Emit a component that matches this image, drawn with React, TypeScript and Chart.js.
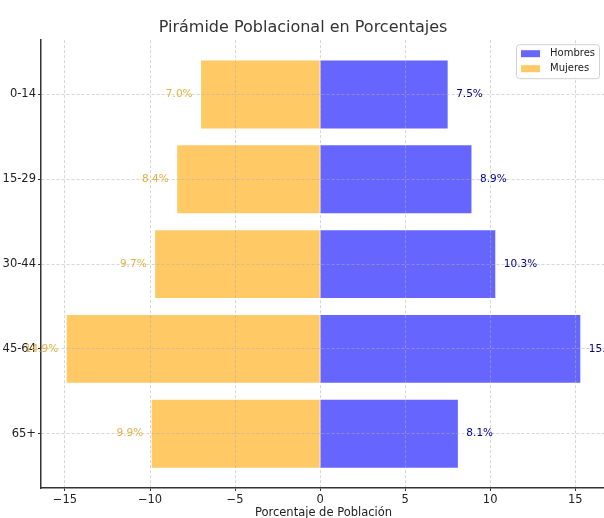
import { useEffect, useRef } from 'react';
import { Chart, registerables } from 'chart.js';

Chart.register(...registerables);

const categories = ['0-14', '15-29', '30-44', '45-64', '65+'];
const hombres = [7.5, 8.9, 10.3, 15.3, 8.1];
const mujeres = [7.0, 8.4, 9.7, 14.9, 9.9];
const xTickValues = [-15, -10, -5, 0, 5, 10, 15];
const seriesNames = ['Hombres', 'Mujeres'];
const seriesColors = ['#6666ff', '#ffc966'];
const labelColors = ['#00008b', '#e0b343'];
const chartTitle = 'Pirámide Poblacional en Porcentajes';
const xTitle = 'Porcentaje de Población';

const FONT = "'DejaVu Sans', sans-serif";
const GRID = 'rgba(176,176,176,0.65)';

export default function App() {
  const ref = useRef<HTMLCanvasElement>(null);

  useEffect(() => {
    const canvas = ref.current;
    if (!canvas) return;

    const valueLabels = {
      id: 'valueLabels',
      afterDraw(chart: any) {
        const { ctx } = chart;
        const x = chart.scales.x;
        const y = chart.scales.y;
        ctx.save();
        ctx.font = `10.5px ${FONT}`;
        ctx.textBaseline = 'middle';
        hombres.forEach((v, i) => {
          ctx.fillStyle = labelColors[0];
          ctx.textAlign = 'left';
          ctx.fillText(`${v.toFixed(1)}%`, x.getPixelForValue(v + 0.5), y.getPixelForValue(i));
        });
        mujeres.forEach((v, i) => {
          ctx.fillStyle = labelColors[1];
          ctx.textAlign = 'right';
          ctx.fillText(`${v.toFixed(1)}%`, x.getPixelForValue(-(v + 0.5)), y.getPixelForValue(i));
        });
        ctx.restore();
      },
    };

    const legendBox = {
      id: 'legendBox',
      afterDraw(chart: any) {
        const { ctx, chartArea } = chart;
        ctx.save();
        ctx.font = `10px ${FONT}`;
        const textW = Math.max(...seriesNames.map((n) => ctx.measureText(n).width));
        const patchW = 19;
        const patchH = 7;
        const padX = 5;
        const gap = 10;
        const rowH = 15;
        const boxW = padX + patchW + gap + textW + 4;
        const boxH = 34;
        const right = chartArea.right - 7;
        const top = chartArea.top + 4;
        const left = right - boxW;
        ctx.fillStyle = 'rgba(255,255,255,0.8)';
        ctx.strokeStyle = '#d0d0d0';
        ctx.lineWidth = 1;
        ctx.beginPath();
        if ((ctx as any).roundRect) {
          (ctx as any).roundRect(left + 0.5, top + 0.5, boxW, boxH, 3);
        } else {
          ctx.rect(left + 0.5, top + 0.5, boxW, boxH);
        }
        ctx.fill();
        ctx.stroke();
        seriesNames.forEach((name, i) => {
          const cy = top + 2 + rowH * i + rowH / 2;
          ctx.fillStyle = seriesColors[i];
          ctx.fillRect(left + padX, cy - patchH / 2, patchW, patchH);
          ctx.fillStyle = '#222';
          ctx.textAlign = 'left';
          ctx.textBaseline = 'middle';
          ctx.fillText(name, left + padX + patchW + gap, cy);
        });
        ctx.restore();
      },
    };

    const gridCommon = {
      color: GRID,
      lineWidth: 0.8,
      z: 1,
      offset: false,
      drawTicks: true,
      tickLength: 3,
      tickColor: '#333',
      tickWidth: 1,
    };

    const chart = new Chart(canvas, {
      type: 'bar',
      data: {
        datasets: [
          {
            label: seriesNames[0],
            data: hombres.map((v, i) => ({ x: v, y: i })),
            backgroundColor: seriesColors[0],
            borderWidth: 0,
            grouped: false,
            barPercentage: 0.8,
            categoryPercentage: 1,
          } as any,
          {
            label: seriesNames[1],
            data: mujeres.map((v, i) => ({ x: -v, y: i })),
            backgroundColor: seriesColors[1],
            borderWidth: 0,
            grouped: false,
            barPercentage: 0.8,
            categoryPercentage: 1,
          } as any,
        ],
      },
      options: {
        indexAxis: 'y',
        responsive: false,
        animation: false,
        devicePixelRatio: 1,
        layout: { padding: { top: 0, left: 0, right: 40, bottom: 0 } },
        plugins: {
          legend: { display: false },
          tooltip: { enabled: false },
          title: {
            display: true,
            text: chartTitle,
            color: '#333',
            font: { family: FONT, size: 16, weight: 'normal' },
            padding: { top: 18, bottom: 3 },
          },
        },
        scales: {
          x: {
            type: 'linear',
            min: -16.41,
            max: 16.81,
            afterBuildTicks: (scale: any) => {
              scale.ticks = xTickValues.map((v) => ({ value: v }));
            },
            afterFit: (scale: any) => {
              scale.height = 32;
            },
            ticks: {
              autoSkip: false,
              maxRotation: 0,
              padding: 2,
              color: '#222',
              font: { family: FONT, size: 11.5 },
              callback: (v: any) => (Number(v) < 0 ? '\u2212' + Math.abs(Number(v)) : String(v)),
            },
            grid: gridCommon,
            border: { display: true, color: '#333', width: 1.5, dash: [3, 2], z: 2 },
            title: {
              display: true,
              text: xTitle,
              color: '#222',
              font: { family: FONT, size: 11.5 },
              padding: { top: 0, bottom: 0 },
            },
          },
          y: {
            type: 'linear',
            reverse: true,
            offset: false,
            min: -0.64,
            max: 4.64,
            afterBuildTicks: (scale: any) => {
              scale.ticks = categories.map((_, i) => ({ value: i }));
            },
            afterFit: (scale: any) => {
              scale.width = 41;
            },
            ticks: {
              autoSkip: false,
              padding: 2,
              color: '#222',
              font: { family: FONT, size: 11.5 },
              callback: (v: any) => categories[Number(v)] ?? '',
            },
            grid: gridCommon,
            border: { display: true, color: '#333', width: 1.5, dash: [3, 2], z: 2 },
          },
        },
      } as any,
      plugins: [valueLabels, legendBox],
    });

    return () => chart.destroy();
  }, []);

  return (
    <div
      style={{
        position: 'absolute',
        left: 0,
        top: 0,
        width: 604,
        height: 518,
        overflow: 'hidden',
        background: '#fff',
      }}
    >
      <canvas ref={ref} width={646} height={520} style={{ display: 'block', width: 646, height: 520 }} />
    </div>
  );
}
